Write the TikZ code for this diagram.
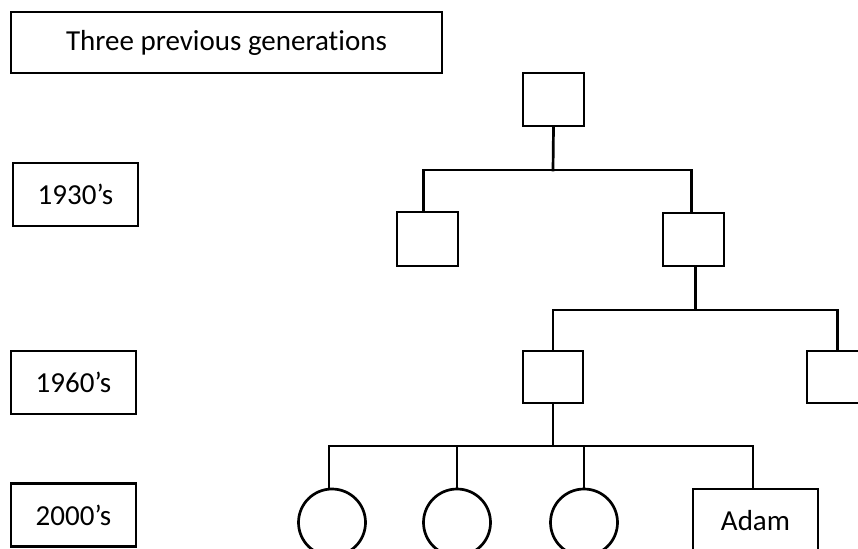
\documentclass[tikz,border=0pt]{standalone}
\usepackage{fontspec}
\setmainfont{Carlito}[Ligatures={NoCommon}]
\begin{document}
\begin{tikzpicture}[x=1pt,y=-1pt,
  line width=2.7pt,
  every node/.style={font=\fontsize{29}{34}\selectfont, inner sep=0pt, draw, line width=2.7pt},
  labelbox/.style={rectangle, minimum width=125pt, minimum height=63pt},
  person/.style={rectangle, minimum width=61pt, minimum height=53pt},
  female/.style={circle, minimum size=67pt},
  link/.style={line width=2.7pt, line cap=rect}]
\useasboundingbox (0,0) rectangle (858,548);
\clip (0,0) rectangle (858,548);

% generation labels
\node[rectangle, minimum width=431pt, minimum height=61pt] (title) at (226.5,42.5) {Three previous generations};
\node[labelbox] (y1930) at (75.5,194.5) {1930’s};
\node[labelbox] (y1960) at (73.5,382.5) {1960’s};
\node[labelbox] (y2000) at (73.5,515) {2000’s};

% family tree
\node[person] (g1) at (553.5,99.5) {};
\node[person, minimum height=54pt] (g2a) at (427.5,239) {};
\node[person] (g2b) at (693.5,239.5) {};
\node[person, minimum width=60pt, minimum height=52pt] (g3a) at (553,377) {};
\node[person, minimum height=52pt] (g3b) at (837.5,377) {};
\node[female] (c1) at (332,522.5) {};
\node[female] (c2) at (457,522.5) {};
\node[female] (c3) at (584,522.5) {};
\node[labelbox] (adam) at (755.5,520.5) {Adam};

% sibling bars
\coordinate (bar1) at (553,170);
\coordinate (bar2) at (553,310);
\coordinate (bar3) at (553,446);

\draw[link] (g1.south) -- (bar1);
\draw[link] ([xshift=-4pt]g2a.north) |- (bar1) -| ([xshift=-2pt]g2b.north);
\draw[link] ([xshift=2pt]g2b.south) -- ([xshift=2pt]g2b.south |- bar2);
\draw[link] (g3a.north) |- (bar2) -| (g3b.north);
\draw[link] (g3a.south) -- (bar3);
\draw[link] ([xshift=-3pt]c1.north) |- (bar3) -| ([xshift=-2.5pt]adam.north);
\draw[link] (c2.north) -- (c2.north |- bar3);
\draw[link] (c3.north) -- (c3.north |- bar3);
\end{tikzpicture}
\end{document}
